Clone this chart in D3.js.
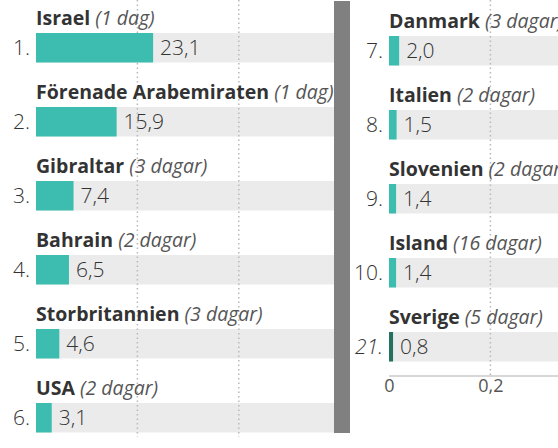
<!DOCTYPE html>
<html>
<head>
<meta charset="utf-8">
<script src="https://cdn.jsdelivr.net/npm/d3@7"></script>
<style>
  body { margin: 0; background: #fff; }
  svg { display: block; }
</style>
</head>
<body>
<svg id="chart" width="558" height="448"></svg>
<script>
// data
var leftCountries = ["Israel", "Förenade Arabemiraten", "Gibraltar", "Bahrain", "Storbritannien", "USA"];
var leftDays = ["1 dag", "1 dag", "3 dagar", "2 dagar", "3 dagar", "2 dagar"];
var leftValues = [23.1, 15.9, 7.4, 6.5, 4.6, 3.1];
var leftRanks = ["1.", "2.", "3.", "4.", "5.", "6."];

var rightCountries = ["Danmark", "Italien", "Slovenien", "Island", "Sverige"];
var rightDays = ["3 dagar", "2 dagar", "2 dagar", "16 dagar", "5 dagar"];
var rightValues = [2.0, 1.5, 1.4, 1.4, 0.8];
var rightRanks = ["7.", "8.", "9.", "10.", "21."];

var gridTicks = [0, 20, 40, 60];

var svg = d3.select("#chart");
var font = "'Open Sans', sans-serif";
var teal = "#3dbdb0";
var sweden = "#26705f";

var sv = d3.formatLocale({ decimal: ",", thousands: " ", grouping: [3], currency: ["", " kr"] });
var fmtValue = sv.format(".1f");
var fmtTick = function(d) { return sv.format("")(d / 100); };

//same scale for both panels
var x = d3.scaleLinear().domain([0, 20]).range([0, 101.4]);

function panel(opts) {
    var g = svg.append("g").attr("transform", "translate(" + opts.left + "," + opts.top + ")");
    var n = opts.countries.length;
    var y = d3.scaleBand().domain(d3.range(n)).range([0, 74 * n]);
    var barTop = 33, barH = 29.5;
    var ticks = gridTicks.filter(function(t) { return x(t) < opts.width; });

    //grey track behind each bar
    g.selectAll("rect.track")
       .data(opts.values)
       .enter()
       .append("rect")
       .attr("x", 0)
       .attr("y", function(d, i) { return y(i) + barTop; })
       .attr("width", opts.width)
       .attr("height", barH)
       .attr("fill", "#ebebeb");

    //dotted grid
    g.selectAll("line.grid")
       .data(ticks.filter(function(t) { return t > 0; }))
       .enter()
       .append("line")
       .attr("x1", function(d) { return x(d); })
       .attr("x2", function(d) { return x(d); })
       .attr("y1", -opts.top)
       .attr("y2", opts.gridBottom)
       .attr("stroke", "#b8b8b8")
       .attr("stroke-width", 1.5)
       .attr("stroke-dasharray", "1.5,3");

    g.selectAll("rect.bar")
       .data(opts.values)
       .enter()
       .append("rect")
       .attr("x", 0)
       .attr("y", function(d, i) { return y(i) + barTop; })
       .attr("width", function(d) { return x(d); })
       .attr("height", barH)
       .attr("fill", function(d, i) { return opts.countries[i] === "Sverige" ? sweden : teal; });

    //country name + days
    var lab = g.selectAll("text.name")
       .data(opts.countries)
       .enter()
       .append("text")
       .attr("x", 0)
       .attr("y", function(d, i) { return y(i) + 25; })
       .attr("font-family", font)
       .attr("font-size", "19.5px");
    lab.append("tspan")
       .attr("font-weight", 700)
       .attr("fill", "#333")
       .text(function(d) { return d; });
    lab.append("tspan")
       .attr("font-style", "italic")
       .attr("fill", "#555")
       .text(function(d, i) { return " (" + opts.days[i] + ")"; });

    //rank numbers
    g.selectAll("text.rank")
       .data(opts.ranks)
       .enter()
       .append("text")
       .text(function(d) { return d; })
       .attr("x", -6)
       .attr("y", function(d, i) { return y(i) + barTop + barH / 2; })
       .attr("dy", "0.36em")
       .attr("text-anchor", "end")
       .attr("font-family", font)
       .attr("font-weight", 300)
       .attr("font-style", function(d) { return d === "21." ? "italic" : "normal"; })
       .attr("font-size", "21px")
       .attr("fill", "#333");

    //values
    g.selectAll("text.value")
       .data(opts.values)
       .enter()
       .append("text")
       .text(function(d) { return fmtValue(d); })
       .attr("x", function(d) { return x(d) + 7; })
       .attr("y", function(d, i) { return y(i) + barTop + barH / 2; })
       .attr("dy", "0.36em")
       .attr("font-family", font)
       .attr("font-weight", 300)
       .attr("font-size", "21px")
       .attr("fill", "#333");

    if (opts.axis) {
        var ax = g.append("g")
           .attr("transform", "translate(0," + (74 * n + 3) + ")")
           .call(d3.axisBottom(x).tickValues(ticks).tickFormat(fmtTick).tickSize(0).tickPadding(3));
        ax.select(".domain").attr("stroke", "#b0b0b0").attr("d", "M0,0H" + opts.width);
        ax.selectAll("text")
           .style("font-family", font)
           .style("font-weight", 400)
           .style("font-size", "18px")
           .attr("fill", "#555");
    }
}

panel({ left: 36, top: 0, width: 298, gridBottom: 437, axis: false,
        countries: leftCountries, days: leftDays, values: leftValues, ranks: leftRanks });
panel({ left: 389, top: 3, width: 175, gridBottom: 373, axis: true,
        countries: rightCountries, days: rightDays, values: rightValues, ranks: rightRanks });

//separator between the panels
svg.append("rect")
   .attr("x", 334)
   .attr("y", 1)
   .attr("width", 16)
   .attr("height", 432)
   .attr("fill", "#808080");
</script>
</body>
</html>
